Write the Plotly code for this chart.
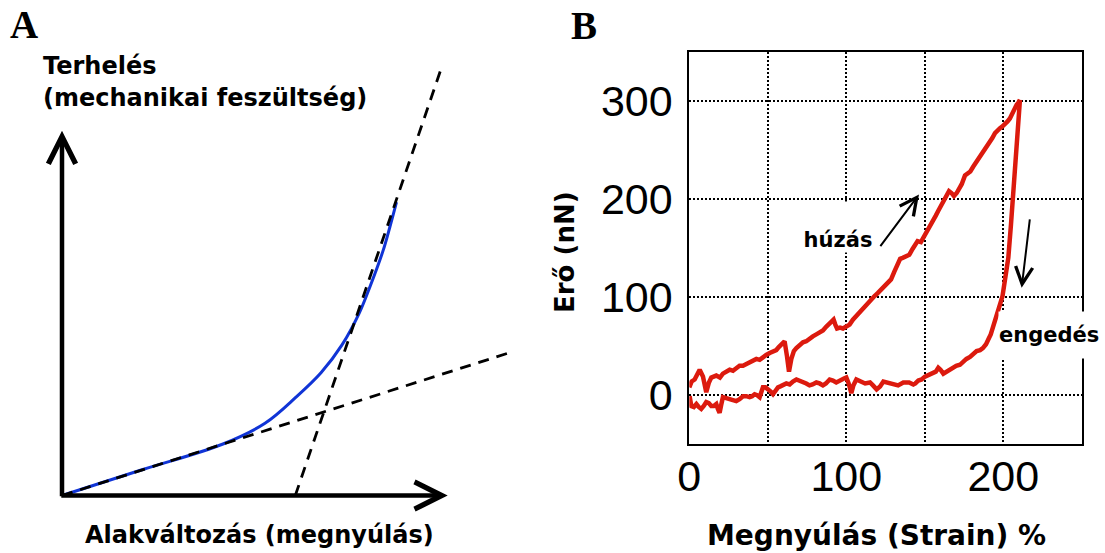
import plotly.graph_objects as go

W, H = 1105, 553

# ---------------- Panel A (schematic, arbitrary units) ----------------
curve_a_x = [0, 0.80, 1.61, 2.03, 2.34, 2.59, 2.80, 2.97, 3.07, 3.21, 3.28, 3.345]
curve_a_y = [0, 0.257, 0.515, 0.722, 0.983, 1.227, 1.506, 1.819, 2.063, 2.446, 2.69, 2.934]
tangent1_x = [0, 4.50]
tangent1_y = [0, 1.436]
tangent2_x = [2.333, 3.788]
tangent2_y = [0, 4.258]

# ---------------- Panel B (force vs strain) ----------------
load_x = [0, 1.5, 3.4, 5, 6.6, 8.7, 10.8, 12.5, 14, 17.2, 19.5, 21.4, 23.5, 25.7, 27.8, 29.9, 32,
          34.2, 36.3, 38.4, 40.5, 42.7, 44.8, 46.9, 49, 51.2, 53.3, 55.4, 57, 58.6, 60.7, 62.2,
          63.5, 65, 66.6, 68.2, 70.3, 72.4, 74.5, 76.6, 78.7, 80.9, 83, 85.1, 87.3, 89.4, 91.9,
          93, 94.1, 96, 97.9, 100, 102.1, 104.2, 106.4, 108.4, 110.6, 111.6, 113.7, 115.8, 118,
          120, 122.2, 124.3, 126.4, 128.5, 130.6, 132.7, 134.3, 135.9, 138, 140.1, 142.2, 143.8,
          145.4, 147.5, 149, 150.6, 152.2, 153.8, 155.4, 157, 158.6, 160.1, 161.7, 163.3, 165.4,
          167, 168.6, 170.3, 171.7, 173.5, 175.6, 177.3, 179, 180.9, 183, 185.1, 186.8, 188.3,
          190, 191.5, 193, 194.7, 196.3, 197.9, 199.5, 201.1, 202.7, 204.2, 205.3, 206.4, 207.5,
          208.5, 209.6, 210.6]
load_y = [8, 14, 16, 22, 26, 19, 3, 13, 18, 20, 18, 22, 24, 26, 25, 28, 30,
          30, 32, 33, 35, 37, 36, 39, 41, 43, 44, 46, 49, 52, 55, 40,
          24, 37, 45, 48, 51, 54, 55, 58, 60, 62, 64, 66, 70, 74, 77,
          72, 68, 69, 68, 70, 72, 77, 81, 84, 89, 91, 94, 98, 101,
          104, 108, 111, 114, 118, 126, 134, 139, 140, 141, 143, 149, 153,
          157, 156, 160, 164, 168, 173, 178, 183, 188, 193, 198, 203, 208,
          206, 203, 206, 210, 215, 224, 226, 228, 233, 238, 243, 246, 249,
          253, 258, 262, 267, 270, 272, 274, 276, 279, 282, 286, 289, 293,
          296, 298, 301]

unload_x = [210.6, 208.5, 206.4, 204.9, 203.2, 201.1, 199.5, 198.2, 196.9, 195.5, 193.7, 192,
            190.5, 189, 187, 185.2, 183, 181, 178.8, 176.5, 174, 172.4, 170, 168, 166, 164,
            161.8, 160, 158.6, 157, 155.4, 153, 150.1, 148, 145.9, 144, 142.7, 140, 136.3, 133,
            130, 127, 123.6, 121.5, 119.3, 117, 115.1, 112, 108.7, 106.4, 104.5, 103.2, 101.5,
            100, 98.5, 96.8, 95, 93.6, 91.5, 89.4, 87, 85.1, 83, 80.9, 78.5, 76.6, 74.5, 72.4,
            70.3, 68.2, 66, 63.9, 61.8, 59.7, 58, 56.5, 55, 53.3, 51.7, 50.1, 48.5, 46.9, 45.8,
            44.8, 43.2, 41.6, 40, 38.4, 36.3, 34.2, 32, 29.9, 27.8, 25.7, 23.5, 21.4, 20.3, 19.3,
            18.2, 17.2, 15.6, 14, 12.4, 10.8, 9.2, 7.6, 6, 4.5, 2.9, 1.3, 0.2]
unload_y = [301, 250, 200, 174, 140, 113, 101, 94, 87, 78, 71, 62,
            57, 52, 48, 46, 45, 42, 39, 37, 33, 31, 30, 28, 27, 25,
            22, 26, 28, 24, 23, 21, 19, 16, 15, 12, 11, 13, 13, 10,
            11, 13, 14, 9, 6, 10, 13, 12, 15, 16, 10, 2, 12,
            18, 17, 16, 14, 13, 15, 16, 12, 10, 12, 13, 11, 10, 12, 13,
            15, 16, 14, 11, 12, 11, 9, 8, 4, 1, 4, 6, 8, 8, 3,
            -2, 0, 1, -1, -2, -1, -1, -4, -6, -5, -4, -3, -2, -10, -18,
            -14, -9, -11, -11, -8, -7, -11, -14, -12, -9, -12, -11, -1]

x_tickvals = [0, 50, 100, 150, 200, 250]
x_ticktext = ["0", "", "100", "", "200", ""]
y_tickvals = [0, 100, 200, 300]
y_ticktext = ["0", "100", "200", "300"]

BOLD = "DejaVu Sans"
RED = "#dc1a0e"
BLUE = "rgb(16,52,214)"

fig = go.Figure()

# Panel A traces
fig.add_trace(go.Scatter(x=curve_a_x, y=curve_a_y, mode="lines", line=dict(color=BLUE, width=3, shape="spline"),
                         xaxis="x", yaxis="y", showlegend=False, hoverinfo="skip"))
fig.add_trace(go.Scatter(x=tangent1_x, y=tangent1_y, mode="lines", line=dict(color="black", width=2.8, dash="11px,8px"),
                         xaxis="x", yaxis="y", showlegend=False, hoverinfo="skip"))
fig.add_trace(go.Scatter(x=tangent2_x, y=tangent2_y, mode="lines", line=dict(color="black", width=2.8, dash="11px,8px"),
                         xaxis="x", yaxis="y", showlegend=False, hoverinfo="skip"))

# Panel B traces
fig.add_trace(go.Scatter(x=load_x, y=load_y, mode="lines", line=dict(color=RED, width=4.5),
                         xaxis="x2", yaxis="y2", showlegend=False, name="húzás"))
fig.add_trace(go.Scatter(x=unload_x, y=unload_y, mode="lines", line=dict(color=RED, width=4.5),
                         xaxis="x2", yaxis="y2", showlegend=False, name="engedés"))

def px(x):
    return x / W

def py(y):
    return 1 - y / H

tickfont = dict(family="Liberation Sans, Arial", size=43, color="black")
fig.update_layout(
    width=W, height=H, autosize=False, showlegend=False,
    margin=dict(l=0, r=0, t=0, b=0, pad=0, autoexpand=False),
    paper_bgcolor="white", plot_bgcolor="white",
    xaxis=dict(domain=[0, 540 / W], range=[-0.62, 4.78], visible=False, fixedrange=True, automargin=False),
    yaxis=dict(domain=[0, 1], range=[-0.575, 4.955], visible=False, fixedrange=True, automargin=False),
    xaxis2=dict(domain=[689.3 / W, 1081.8 / W], range=[0, 250], anchor="y2", automargin=False,
                tickvals=x_tickvals, ticktext=x_ticktext, ticks="", ticklabelstandoff=-7,
                showgrid=True, gridcolor="black", gridwidth=2, griddash="2px,2px",
                showline=True, mirror=True, linecolor="black", linewidth=2, zeroline=False,
                tickfont=tickfont),
    yaxis2=dict(domain=[1 - 444.3 / H, 1 - 51.7 / H], range=[-50, 350], anchor="x2", automargin=False,
                tickvals=y_tickvals, ticktext=y_ticktext, ticks="", ticklabelstandoff=6,
                showgrid=True, gridcolor="black", gridwidth=2, griddash="2px,2px",
                showline=True, mirror=True, linecolor="black", linewidth=2, zeroline=False,
                tickfont=tickfont),
)

ann = []
# Panel letters
ann.append(dict(text="A", xref="paper", yref="paper", x=px(23.9), y=py(1.5), xanchor="center", yanchor="top",
                showarrow=False, font=dict(family="Liberation Serif", size=39, color="black", weight="bold")))
ann.append(dict(text="B", xref="paper", yref="paper", x=px(584.2), y=py(2), xanchor="center", yanchor="top",
                showarrow=False, font=dict(family="Liberation Serif", size=39, color="black", weight="bold")))
# Panel A labels
fa = dict(family=BOLD, size=24, color="black", weight="bold")
ann.append(dict(text="Terhelés", xref="paper", yref="paper", x=px(40.5), y=py(50), xanchor="left", yanchor="top",
                showarrow=False, font=fa))
ann.append(dict(text="(mechanikai feszültség)", xref="paper", yref="paper", x=px(40.5), y=py(82), xanchor="left",
                yanchor="top", showarrow=False, font=fa))
ann.append(dict(text="Alakváltozás (megnyúlás)", xref="paper", yref="paper", x=px(83), y=py(519), xanchor="left",
                yanchor="top", showarrow=False, font=fa))
# Panel A axis arrows
ann.append(dict(text="", xref="x", yref="y", axref="x", ayref="y", x=3.857, y=0, ax=-0.022, ay=0,
                showarrow=True, arrowhead=5, arrowwidth=4.5, arrowsize=1.19, arrowcolor="black", standoff=0))
ann.append(dict(text="", xref="x", yref="y", axref="x", ayref="y", x=0, y=3.648, ax=0, ay=-0.022,
                showarrow=True, arrowhead=5, arrowwidth=4.5, arrowsize=1.19, arrowcolor="black", standoff=0))
# Panel B labels
fb = dict(family=BOLD, size=21, color="black", weight="bold")
ann.append(dict(text="húzás", xref="x2", yref="y2", x=94.4, y=197.4, xanchor="center", yanchor="top",
                width=80, height=50, valign="bottom", bgcolor="white", borderpad=0, showarrow=False, font=fb))
ann.append(dict(text="engedés", xref="x2", yref="y2", x=231.0, y=85.5, xanchor="center", yanchor="top",
                width=106, height=46, valign="middle", align="left", bgcolor="white", borderpad=0,
                showarrow=False, font=fb))
ann.append(dict(text="", xref="x2", yref="y2", axref="x2", ayref="y2", x=146.3, y=204.5, ax=121, ay=150.3,
                showarrow=True, arrowhead=5, arrowwidth=2, arrowsize=1.68, arrowcolor="black", standoff=0))
ann.append(dict(text="", xref="x2", yref="y2", axref="x2", ayref="y2", x=211.7, y=109.6, ax=217, ay=180.8,
                showarrow=True, arrowhead=5, arrowwidth=2, arrowsize=1.68, arrowcolor="black", standoff=0))
# Panel B axis titles
ann.append(dict(text="Erő (nN)", xref="paper", yref="paper", x=px(564.5), y=py(252.5), xanchor="center",
                yanchor="middle", textangle=-90, showarrow=False,
                font=dict(family=BOLD, size=26, color="black", weight="bold")))
ann.append(dict(text="Megnyúlás (Strain) %", xref="paper", yref="paper", x=px(876.7), y=py(517), xanchor="center",
                yanchor="top", showarrow=False,
                font=dict(family=BOLD, size=28, color="black", weight="bold")))

fig.update_layout(annotations=ann)
fig.write_html("out.html", post_script="document.body.style.margin='0';document.body.style.overflow='hidden';")
